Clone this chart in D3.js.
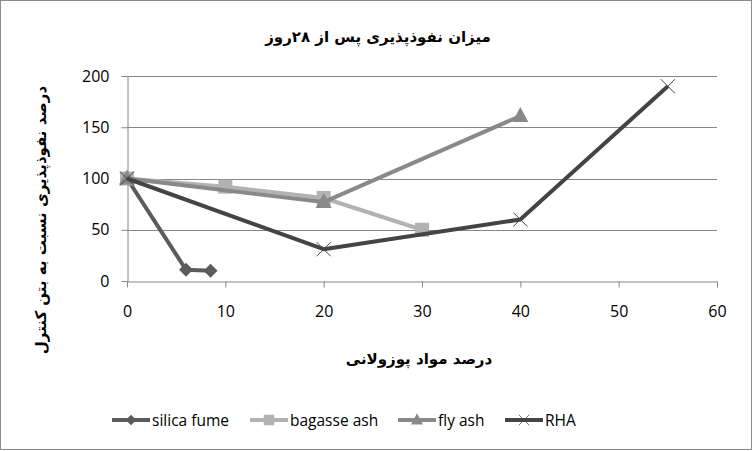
<!DOCTYPE html>
<html>
<head>
<meta charset="utf-8">
<script src="https://cdn.jsdelivr.net/npm/d3@7"></script>
<style>
  body { margin: 0; background: #fff; }
  svg { display: block; }
</style>
</head>
<body>
<script>
// chart values
var seriesNames = ['silica fume', 'bagasse ash', 'fly ash', 'RHA'];
var silicaFume = [[0, 100], [6, 11], [8.5, 10]];
var bagasseAsh = [[0, 100], [10, 92], [20, 81], [30, 50]];
var flyAsh = [[0, 100], [20, 77], [40, 161]];
var rha = [[0, 100], [20, 31], [40, 60], [55, 190]];
var xTicks = [0, 10, 20, 30, 40, 50, 60];
var yTicks = [0, 50, 100, 150, 200];

var titleText = 'میزان نفوذپذیری پس از ۲۸روز';
var xLabel = 'درصد مواد پوزولانی';
var yLabel = 'درصد نفوذپذیری نسبت به بتن کنترل';

var W = 753, H = 451;
var margin = { top: 76, right: 36, bottom: 170, left: 127 };
var width = 717 - margin.left;
var height = 281 - margin.top;

var svg = d3.select('body').append('svg')
    .attr('width', W)
    .attr('height', H);

// outer chart border
svg.append('rect')
    .attr('x', 0.5).attr('y', 0.5)
    .attr('width', W - 2).attr('height', H - 2)
    .attr('fill', '#fff')
    .attr('stroke', '#8c8c8c');

var x = d3.scaleLinear().domain([0, 60]).range([0, width]);
var y = d3.scaleLinear().domain([0, 200]).range([height, 0]);

var g = svg.append('g')
    .attr('transform', 'translate(' + margin.left + ',' + margin.top + ')');

// horizontal gridlines
g.selectAll('.grid')
    .data(yTicks.slice(1))
    .enter().append('line')
    .attr('x1', 0).attr('x2', width)
    .attr('y1', function(d) { return Math.round(y(d)) + 0.5; })
    .attr('y2', function(d) { return Math.round(y(d)) + 0.5; })
    .attr('stroke', '#868686');

var tickFont = '"Open Sans", "Liberation Sans", sans-serif';

// x axis
var xAxis = g.append('g')
    .attr('transform', 'translate(0,' + (height + 0.5) + ')')
    .call(d3.axisBottom(x).tickValues(xTicks).tickSize(6).tickSizeOuter(0).tickPadding(18));
// y axis
var yAxis = g.append('g')
    .attr('transform', 'translate(0.5,0)')
    .call(d3.axisLeft(y).tickValues(yTicks).tickSize(6).tickSizeOuter(0).tickPadding(12));

[xAxis, yAxis].forEach(function(a) {
    a.select('.domain').attr('stroke', '#868686');
    a.selectAll('.tick line').attr('stroke', '#868686');
    a.selectAll('.tick text')
        .attr('fill', '#000')
        .style('font-family', tickFont)
        .style('font-size', '16px');
});

var colors = ['#5b5b5b', '#b2b2b2', '#898989', '#444444'];
var allSeries = [silicaFume, bagasseAsh, flyAsh, rha];

var line = d3.line()
    .x(function(d) { return x(d[0]); })
    .y(function(d) { return y(d[1]); });

// draw a marker centred at 0,0
function drawMarker(sel, i) {
    var c = colors[i];
    if (i === 0) {
        sel.append('path').attr('d', 'M0,-7L7,0L0,7L-7,0Z').attr('fill', c);
    } else if (i === 1) {
        sel.append('rect').attr('x', -7).attr('y', -7).attr('width', 14).attr('height', 14).attr('fill', c);
    } else if (i === 2) {
        sel.append('path').attr('d', 'M0,-9L8,6L-8,6Z').attr('fill', c);
    } else {
        sel.append('path').attr('d', 'M-7,-7L7,7M-7,7L7,-7')
            .attr('stroke', c).attr('stroke-width', 1).attr('fill', 'none');
    }
}

allSeries.forEach(function(data, i) {
    g.append('path')
        .datum(data)
        .attr('d', line)
        .attr('fill', 'none')
        .attr('stroke', colors[i])
        .attr('stroke-width', 4)
        .attr('stroke-linejoin', 'round');
    g.selectAll('.m' + i)
        .data(data)
        .enter().append('g')
        .attr('class', 'm' + i)
        .attr('transform', function(d) { return 'translate(' + x(d[0]) + ',' + y(d[1]) + ')'; })
        .each(function() { drawMarker(d3.select(this), i); });
});

var faFont = '"DejaVu Sans", "Noto Sans", sans-serif';

// title
svg.append('text')
    .attr('x', 378).attr('y', 42)
    .attr('text-anchor', 'middle')
    .attr('direction', 'rtl')
    .style('font-family', faFont)
    .style('font-weight', 'bold')
    .style('font-size', '15px')
    .text(titleText);

// x-axis label
svg.append('text')
    .attr('x', 419).attr('y', 364)
    .attr('text-anchor', 'middle')
    .attr('direction', 'rtl')
    .style('font-family', faFont)
    .style('font-weight', 'bold')
    .style('font-size', '15px')
    .text(xLabel);

// y-axis label
svg.append('text')
    .attr('transform', 'translate(46,' + 220 + ') rotate(-90)')
    .attr('text-anchor', 'middle')
    .attr('direction', 'rtl')
    .style('font-family', faFont)
    .style('font-weight', 'bold')
    .style('font-size', '15px')
    .text(yLabel);

// legend
var legendX = [112, 250, 398, 505];
var legend = svg.selectAll('.legend')
    .data(seriesNames)
    .enter().append('g')
    .attr('class', 'legend')
    .attr('transform', function(d, i) { return 'translate(' + legendX[i] + ',420)'; });

legend.append('line')
    .attr('x1', 0).attr('x2', 38)
    .attr('stroke', function(d, i) { return colors[i]; })
    .attr('stroke-width', 4);
legend.each(function(d, i) {
    var m = d3.select(this).append('g').attr('transform', 'translate(19,0) scale(0.75)');
    drawMarker(m, i);
});
legend.append('text')
    .attr('x', 40).attr('y', 6)
    .style('font-family', tickFont)
    .style('font-size', '15.5px')
    .text(function(d) { return d; });
</script>
</body>
</html>
